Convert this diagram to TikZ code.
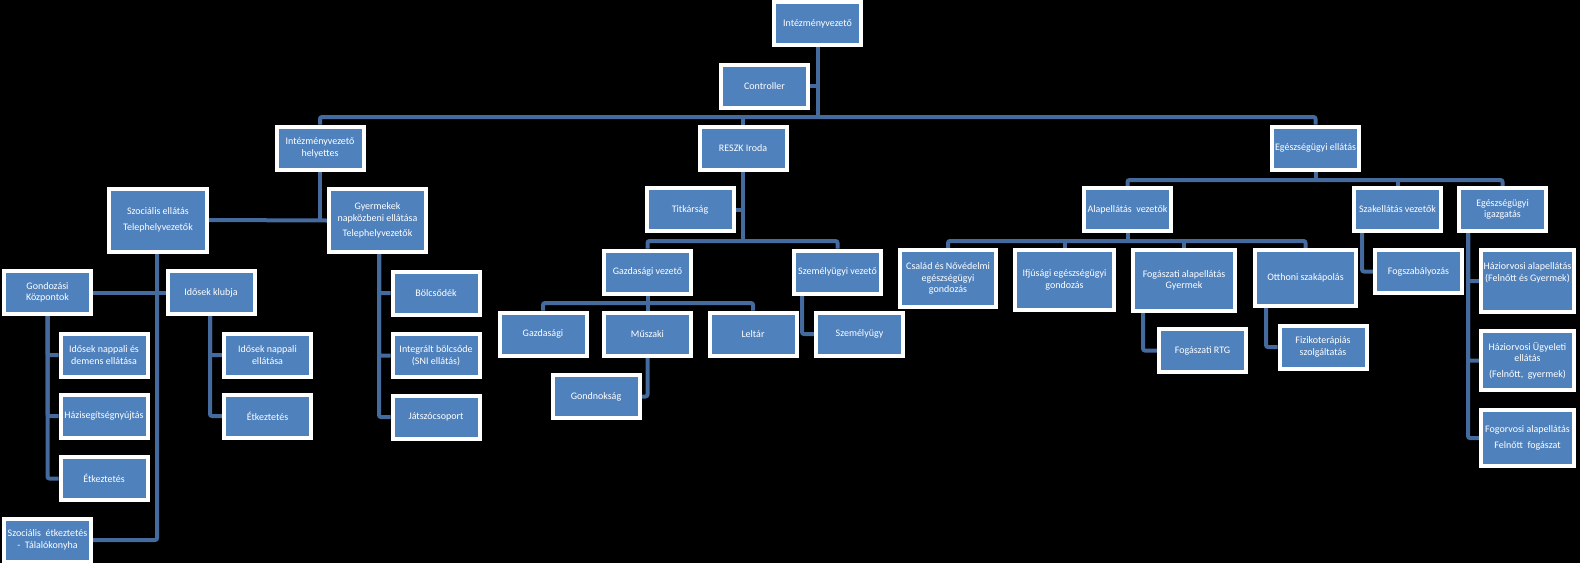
\documentclass[tikz,border=0pt]{standalone}
\usepackage{fontspec}
\setmainfont{Carlito}
\usepackage{xcolor}
\usepackage{tikz}
\usetikzlibrary{calc,positioning}
\definecolor{boxblue}{RGB}{79,129,189}
\definecolor{linkblue}{RGB}{68,106,158}
\pgfdeclarelayer{backdrop}
\pgfdeclarelayer{wires}
\pgfsetlayers{backdrop,wires,main}

\begin{document}
\begin{tikzpicture}[
    x=1pt, y=-1pt,
    box/.style={rectangle, draw=white, line width=4pt, fill=boxblue, text=white, minimum width=87pt, minimum height=43pt, inner sep=1pt, align=center, font=\fontsize{10}{11.5}\selectfont},
    link/.style={draw=linkblue, line width=4pt, rounded corners=2pt}
]
\useasboundingbox (0,0) rectangle (1580,563);
\begin{pgfonlayer}{backdrop}
\fill[black] (0,0) rectangle (1580,563);
\end{pgfonlayer}

% Top level
\node[box] (chief) at (817.5,23.5) {Intézményvezető};
\node[box] (ctrl) at (764.5,86) {Controller};
\node[box] (deputy) at (320,148) {Intézményvezető\\helyettes};
\node[box] (reszk) at (743,148) {RESZK Iroda};
\node[box] (health) at (1315.5,148) {Egészségügyi ellátás};

% Social branch
\node[box, minimum width=98pt, minimum height=63pt] (social) at (158,220) {Szociális ellátás\\[4pt]Telephelyvezetők};
\node[box, minimum width=97pt, minimum height=63pt] (child) at (377.5,220.5) {Gyermekek\\napközbeni ellátása\\[4pt]Telephelyvezetők};
\node[box] (care) at (47.5,292.5) {Gondozási\\Központok};
\node[box] (club) at (211,292.5) {Idősek klubja};
\node[box] (caredem) at (104,355) {Idősek nappali és\\demens ellátása};
\node[box] (home) at (104,416) {Házisegítségnyújtás};
\node[box] (meal1) at (104,478.5) {Étkeztetés};
\node[box] (kitchen) at (47.5,540) {Szociális~ étkeztetés\\-~ Tálalókonyha};
\node[box] (clubday) at (267.5,355) {Idősek nappali\\ellátása};
\node[box] (meal2) at (267.5,416) {Étkeztetés};
\node[box] (nursery) at (436,293) {Bölcsődék};
\node[box] (integ) at (436,355.5) {Integrált bölcsőde\\(SNI ellátás)};
\node[box] (play) at (436,417) {Játszócsoport};

% RESZK branch
\node[box] (secr) at (690,209.5) {Titkárság};
\node[box] (econlead) at (647.5,272) {Gazdasági vezető};
\node[box] (hrlead) at (837.5,272) {Személyügyi vezető};
\node[box] (econ) at (543,334) {Gazdasági};
\node[box] (tech) at (647.5,334) {Műszaki};
\node[box] (inv) at (753,334) {Leltár};
\node[box] (caretaker) at (596,396.5) {Gondnokság};
\node[box] (hr) at (859.5,334) {Személyügy};

% Health branch
\node[box] (primary) at (1127.5,209.5) {Alapellátás~ vezetők};
\node[box] (spec) at (1397.5,209.5) {Szakellátás vezetők};
\node[box] (admin) at (1502.5,209.5) {Egészségügyi\\igazgatás};
\node[box, minimum width=96pt, minimum height=57pt] (family) at (948,278.5) {Család és Nővédelmi\\egészségügyi\\gondozás};
\node[box, minimum width=99pt, minimum height=60pt] (youth) at (1064.5,280) {Ifjúsági egészségügyi\\gondozás};
\node[box, minimum width=102pt, minimum height=61pt] (dent) at (1184,280.5) {Fogászati alapellátás\\Gyermek};
\node[box, minimum width=101pt, minimum height=56pt] (nursing) at (1305.5,278) {Otthoni szakápolás};
\node[box] (rtg) at (1202.5,350.5) {Fogászati RTG};
\node[box] (physio) at (1323,347) {Fizikoterápiás\\szolgáltatás};
\node[box] (ortho) at (1418.5,271.5) {Fogszabályozás};
\node[box, minimum width=93pt, minimum height=62pt] (gp) at (1527.5,281) {Háziorvosi alapellátás\\(Felnőtt és Gyermek)\\[6pt]};
\node[box, minimum width=93pt, minimum height=59pt] (gpduty) at (1527.5,360.5) {Háziorvosi Ügyeleti\\ellátás\\[4pt](Felnőtt,~ gyermek)};
\node[box, minimum width=93pt, minimum height=56pt] (dentad) at (1527.5,438) {Fogorvosi alapellátás\\[4pt]Felnőtt~ fogászat};

\begin{pgfonlayer}{wires}
% top level lines
\coordinate (topbus) at (817.5,117);
\draw[link] (chief.south) -- (topbus);
\draw[link] (ctrl.east) -- (ctrl.east -| chief.south);
\draw[link] (deputy.north) |- (topbus) -| (health.north);
\draw[link] (reszk.north) -- (reszk.north |- topbus);

% social lines
\draw[link] (social.east) -- (child.west);
\draw[link] (deputy.south) -- (deputy.south |- social.east);
\draw[link] ([xshift=-1pt]social.south) |- (kitchen.east);
\draw[link] (care.east) -- (club.west);
\foreach \n in {caredem,home,meal1}
  \draw[link] (care.south) |- (\n.west);
\foreach \n in {clubday,meal2}
  \draw[link] ([xshift=-1pt]club.south) |- (\n.west);
\foreach \n in {nursery,integ,play}
  \draw[link] ([xshift=1.5pt]child.south) |- (\n.west);

% RESZK lines
\coordinate (reszkbus) at (743,241);
\draw[link] (reszk.south) -- (reszkbus);
\draw[link] (secr.east) -- (secr.east -| reszk.south);
\draw[link] (econlead.north) |- (reszkbus) -| (hrlead.north);
\coordinate (econbus) at (647.5,303);
\draw[link] (econlead.south) -- (tech.north);
\draw[link] (econ.north) |- (econbus) -| (inv.north);
\draw[link] (tech.south) |- (caretaker.east);
\draw[link] ([xshift=-35.5pt]hrlead.south) |- (hr.west);

% health lines
\coordinate (healthbus) at (1315.5,180);
\draw[link] (health.south) -- (healthbus);
\draw[link] (primary.north) |- (healthbus) -| (admin.north);
\draw[link] (spec.north) -- (spec.north |- healthbus);
\coordinate (primbus) at (1127.5,241);
\draw[link] (primary.south) -- (primbus);
\draw[link] (family.north) |- (primbus) -| (nursing.north);
\foreach \n in {youth,dent}
  \draw[link] (\n.north) -- (\n.north |- primbus);
\draw[link] ([xshift=-41pt]dent.south) |- (rtg.west);
\draw[link] ([xshift=-39.5pt]nursing.south) |- (physio.west);
\draw[link] ([xshift=-35.5pt]spec.south) |- (ortho.west);
\foreach \n in {gp,gpduty,dentad}
  \draw[link] ([xshift=-34.5pt]admin.south) |- (\n.west);
\end{pgfonlayer}

\end{tikzpicture}
\end{document}
